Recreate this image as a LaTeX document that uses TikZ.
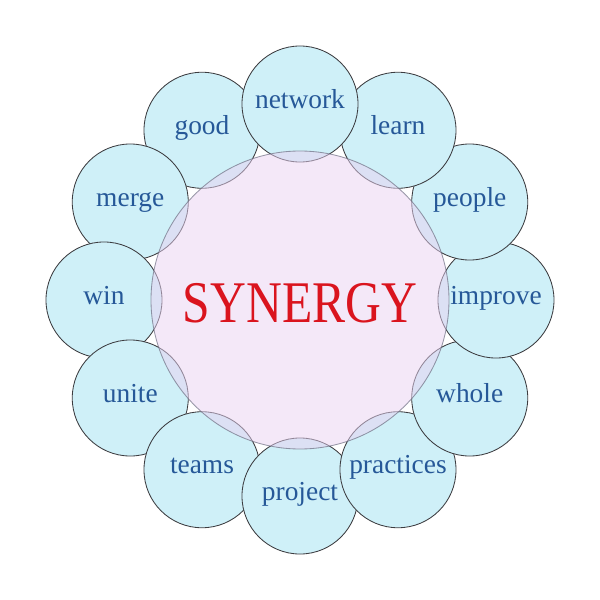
\documentclass[tikz,border=0pt]{standalone}
\usepackage{fontspec}
\setmainfont{Liberation Serif}
\usepackage{tikz}
\definecolor{bubblefill}{RGB}{207,240,248}
\definecolor{bubbleline}{RGB}{60,60,64}
\definecolor{hubfill}{RGB}{233,209,241}
\definecolor{hubline}{RGB}{110,110,130}
\definecolor{wordblue}{RGB}{38,88,152}
\definecolor{titlered}{RGB}{218,20,30}
\tikzset{
  bubble/.style={circle,draw=bubbleline,fill=bubblefill,line width=.6pt,
    minimum size=2.9cm,inner sep=0pt,text=wordblue,
    font=\fontsize{19.5}{20}\selectfont,text height=1.3ex,text depth=0pt},
  hub/.style={fill=hubfill,fill opacity=.5,draw=hubline,draw opacity=.7,line width=.6pt}
}
\begin{document}
\begin{tikzpicture}[x=.025cm,y=.025cm]
\useasboundingbox (-300,-300) rectangle (300,300);
% ring of words, drawn counterclockwise from good
\foreach \a/\w in {120/good,150/merge,180/win,210/unite,240/teams,270/project,
  300/practices,330/whole,0/improve,30/people,60/learn,90/network}
  \node[bubble] (\w) at (\a:196) {\w};
%
\draw[hub] (0,0) circle (149);
\node[anchor=base,text=titlered,xscale=.84,inner sep=0pt,
  font=\fontsize{42}{44}\selectfont] (title) at (0,-22) {SYNERGY};
%
\end{tikzpicture}
\end{document}
